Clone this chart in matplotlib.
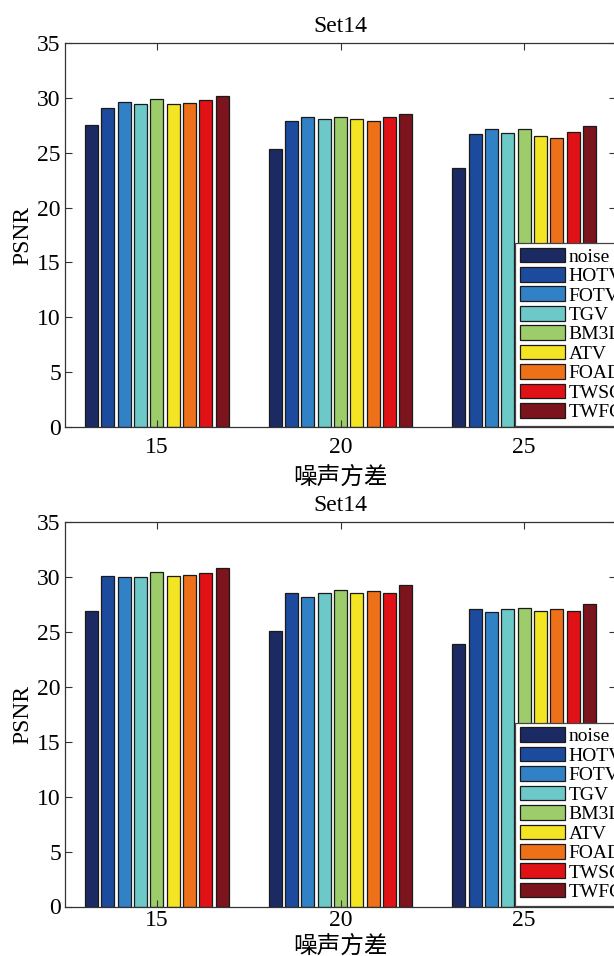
import matplotlib
matplotlib.use("Agg")
import matplotlib.pyplot as plt
import numpy as np

plt.rcParams['font.family'] = ['Liberation Serif', 'Noto Sans CJK SC']

methods = ["noise", "HOTV", "FOTV", "TGV", "BM3D", "ATV", "FOAD", "TWSC", "TWFC"]
colors = ["#1b2a63", "#1c4b9e", "#3181c6", "#6cc9c8", "#9ccd6a",
          "#f3e524", "#ee7019", "#e01216", "#7b141d"]
noise_levels = ["15", "20", "25"]

# PSNR per method, one value per noise level (top chart)
psnr_top = {
    "noise": [27.5, 25.3, 23.6],
    "HOTV": [29.1, 27.9, 26.7],
    "FOTV": [29.6, 28.3, 27.2],
    "TGV":  [29.4, 28.1, 26.8],
    "BM3D": [29.9, 28.3, 27.2],
    "ATV":  [29.4, 28.1, 26.5],
    "FOAD": [29.5, 27.9, 26.3],
    "TWSC": [29.8, 28.3, 26.9],
    "TWFC": [30.2, 28.5, 27.4],
}
# bottom chart
psnr_bottom = {
    "noise": [26.9, 25.1, 23.9],
    "HOTV": [30.1, 28.6, 27.1],
    "FOTV": [30.0, 28.2, 26.8],
    "TGV":  [30.0, 28.6, 27.1],
    "BM3D": [30.5, 28.8, 27.2],
    "ATV":  [30.1, 28.6, 26.9],
    "FOAD": [30.2, 28.7, 27.1],
    "TWSC": [30.4, 28.6, 26.9],
    "TWFC": [30.8, 29.3, 27.6],
}

W, H = 614, 956
fig = plt.figure(figsize=(W / 100, H / 100), dpi=100)


def px_axes(left, top, right, bottom):
    return fig.add_axes([left / W, 1 - bottom / H, (right - left) / W, (bottom - top) / H])


def draw(ax, data, leg_top, xpad, xlabelpad):
    n = len(methods)
    x = np.arange(1, len(noise_levels) + 1)
    gw = 0.8
    step = gw / n
    for i, m in enumerate(methods):
        off = (i - (n - 1) / 2) * step
        ax.bar(x + off, data[m], width=step * 0.8, color=colors[i],
               edgecolor="#1a1a1a", linewidth=0.9, label=m)
    ax.set_xlim(0.5, 3.5)
    ax.set_ylim(0, 35)
    ax.set_xticks(x)
    ax.set_xticklabels(noise_levels)
    ax.set_yticks(np.arange(0, 36, 5))
    ax.tick_params(direction="in", length=5, width=0.8, labelsize=17,
                   top=True, right=True, color="#333333")
    ax.tick_params(axis="x", pad=xpad)
    ax.tick_params(axis="y", pad=3)
    for s in ax.spines.values():
        s.set_color("#333333")
        s.set_linewidth(0.9)
    ax.set_title("Set14", fontsize=17, pad=8)
    ax.set_ylabel("PSNR", fontsize=17, labelpad=3)
    ax.set_xlabel("噪声方差", fontsize=17, labelpad=xlabelpad,
                  family=["Noto Sans CJK SC"], fontweight="light")
    leg = ax.legend(loc="upper left", bbox_to_anchor=(515 / W, 1 - leg_top / H),
                    bbox_transform=fig.transFigure, fontsize=14, frameon=True,
                    fancybox=False, edgecolor="#444444", framealpha=1,
                    borderpad=0.25, labelspacing=0.07, handlelength=2.3,
                    handleheight=0.78, handletextpad=0.2, borderaxespad=0)
    leg.get_frame().set_linewidth(0.9)


ax1 = px_axes(65, 43, 616, 427)
draw(ax1, psnr_top, 242.7, xpad=7, xlabelpad=6)
ax2 = px_axes(65, 522.3, 616, 906.5)
draw(ax2, psnr_bottom, 722.5, xpad=2.5, xlabelpad=3)

fig.savefig("out.png", dpi=100)
